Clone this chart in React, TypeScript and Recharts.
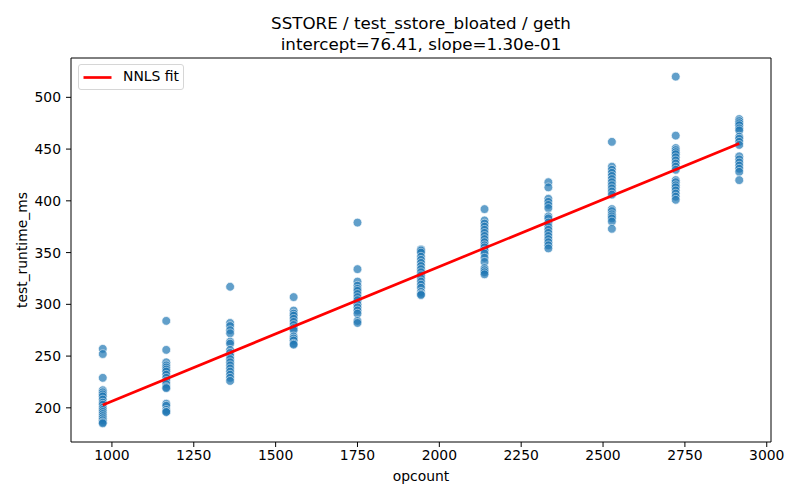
import React from 'react'
import { ScatterChart, Scatter, XAxis, YAxis, Legend } from 'recharts'

// opcount columns
const opcounts = [972, 1166, 1361, 1555, 1750, 1944, 2138, 2333, 2527, 2722, 2916]

// runtime samples (ms) per opcount column
const rt972 = [257, 252, 229, 217, 215, 213, 211, 208, 205, 203, 200, 198, 196, 194, 192, 190, 188, 186, 185]
const rt1166 = [284, 256, 244, 241, 239, 237, 235, 232, 229, 226, 223, 220, 219, 204, 202, 198, 196, 196]
const rt1361 = [317, 282, 279, 275, 272, 264, 262, 256, 253, 250, 247, 244, 241, 238, 235, 232, 229, 226]
const rt1555 = [307, 294, 291, 289, 286, 283, 280, 277, 275, 269, 267, 265, 262, 261]
const rt1750 = [379, 334, 322, 318, 315, 313, 310, 307, 304, 300, 297, 294, 291, 284, 282]
const rt1944 = [353, 352, 350, 346, 343, 340, 337, 334, 331, 328, 325, 322, 319, 316, 312, 310, 309]
const rt2138 = [392, 381, 378, 375, 372, 369, 366, 363, 360, 357, 355, 352, 349, 345, 341, 335, 333, 331, 329]
const rt2333 = [418, 413, 402, 399, 396, 393, 385, 383, 379, 375, 372, 369, 366, 363, 360, 357, 354]
const rt2527 = [457, 433, 430, 427, 424, 421, 418, 415, 412, 409, 406, 392, 390, 387, 385, 383, 380, 373]
const rt2722 = [520, 463, 451, 449, 447, 445, 442, 439, 436, 433, 430, 420, 418, 415, 413, 410, 407, 404, 401]
const rt2916 = [479, 477, 475, 473, 470, 468, 462, 460, 457, 454, 443, 440, 437, 434, 431, 428, 420]

const runtimes = [rt972, rt1166, rt1361, rt1555, rt1750, rt1944, rt2138, rt2333, rt2527, rt2722, rt2916]

// NNLS fit endpoints
const fitX = [972, 2916]
const fitY = [202.8, 455.5]

const xTicks = [1000, 1250, 1500, 1750, 2000, 2250, 2500, 2750, 3000]
const yTicks = [200, 250, 300, 350, 400, 450, 500]

const points = opcounts.flatMap((x, i) => runtimes[i].map((y) => ({ x, y })))
const fitData = fitX.map((x, i) => ({ x, y: fitY[i] }))

const FONT = '"DejaVu Sans", sans-serif'
const X_DOMAIN = [875, 3013]
const Y_DOMAIN = [167, 538]

const Dot = (props: any) => (
  <circle cx={props.cx} cy={props.cy} r={4.4} fill="#1f77b4" stroke="#ffffff" strokeWidth={0.7} opacity={0.7} />
)

const renderLegend = () => (
  <div
    style={{
      width: 104,
      height: 24,
      border: '1px solid #d6d6d6',
      borderRadius: 3,
      background: 'rgba(255,255,255,0.8)',
      position: 'relative',
      fontFamily: FONT,
      fontSize: 13.9,
    }}
  >
    <svg width={40} height={24} style={{ position: 'absolute', left: 0, top: 0 }}>
      <line x1={4.5} y1={12.5} x2={32.5} y2={12.5} stroke="#ff0000" strokeWidth={2.7} />
    </svg>
    <span style={{ position: 'absolute', left: 44, top: 3, lineHeight: '17px' }}>NNLS fit</span>
  </div>
)

export default function App() {
  return (
    <div style={{ position: 'relative', width: 800, height: 500, margin: '-8px 0 0 -8px', fontFamily: FONT, background: '#fff' }}>
      <div style={{ position: 'absolute', top: 13, left: 0, width: 842, textAlign: 'center', fontSize: 16.7, lineHeight: '20px' }}>
        SSTORE / test_sstore_bloated / geth
      </div>
      <div style={{ position: 'absolute', top: 34, left: 0, width: 842, textAlign: 'center', fontSize: 16.7, lineHeight: '20px' }}>
        intercept=76.41, slope=1.30e-01
      </div>
      <ScatterChart width={800} height={500} margin={{ top: 57, right: 28, bottom: 0, left: 0 }}>
        <XAxis
          dataKey="x"
          type="number"
          domain={X_DOMAIN}
          ticks={xTicks}
          allowDataOverflow
          height={58}
          stroke="#000"
          tickSize={5}
          tickMargin={3}
          tick={{ fill: '#000', fontSize: 13.9 }}
        />
        <XAxis
          xAxisId="top"
          dataKey="x"
          orientation="top"
          type="number"
          domain={X_DOMAIN}
          allowDataOverflow
          height={1}
          tick={false}
          tickLine={false}
          stroke="#000"
        />
        <YAxis
          dataKey="y"
          type="number"
          domain={Y_DOMAIN}
          ticks={yTicks}
          allowDataOverflow
          width={71}
          stroke="#000"
          tickSize={5}
          tickMargin={5}
          tick={{ fill: '#000', fontSize: 13.9 }}
        />
        <YAxis
          yAxisId="right"
          dataKey="y"
          orientation="right"
          type="number"
          domain={Y_DOMAIN}
          allowDataOverflow
          width={1}
          tick={false}
          tickLine={false}
          stroke="#000"
        />
        <Legend
          content={renderLegend}
          layout="horizontal"
          verticalAlign="middle"
          align="center"
          wrapperStyle={{ top: 64, left: 78, width: 106 }}
        />
        <Scatter name="samples" data={points} shape={Dot} legendType="none" isAnimationActive={false} />
        <Scatter
          name="NNLS fit"
          data={fitData}
          xAxisId="top"
          yAxisId="right"
          line={{ stroke: '#ff0000', strokeWidth: 2.7 }}
          lineType="joint"
          shape={() => <g />}
          legendType="line"
          isAnimationActive={false}
        />
      </ScatterChart>
      <div style={{ position: 'absolute', top: 468, left: 0, width: 842, textAlign: 'center', fontSize: 13.9, lineHeight: '17px' }}>
        opcount
      </div>
      <div
        style={{
          position: 'absolute',
          left: 22,
          top: 250,
          transform: 'translate(-50%, -50%) rotate(-90deg)',
          fontSize: 13.9,
          lineHeight: '17px',
          whiteSpace: 'nowrap',
        }}
      >
        test_runtime_ms
      </div>
    </div>
  )
}
